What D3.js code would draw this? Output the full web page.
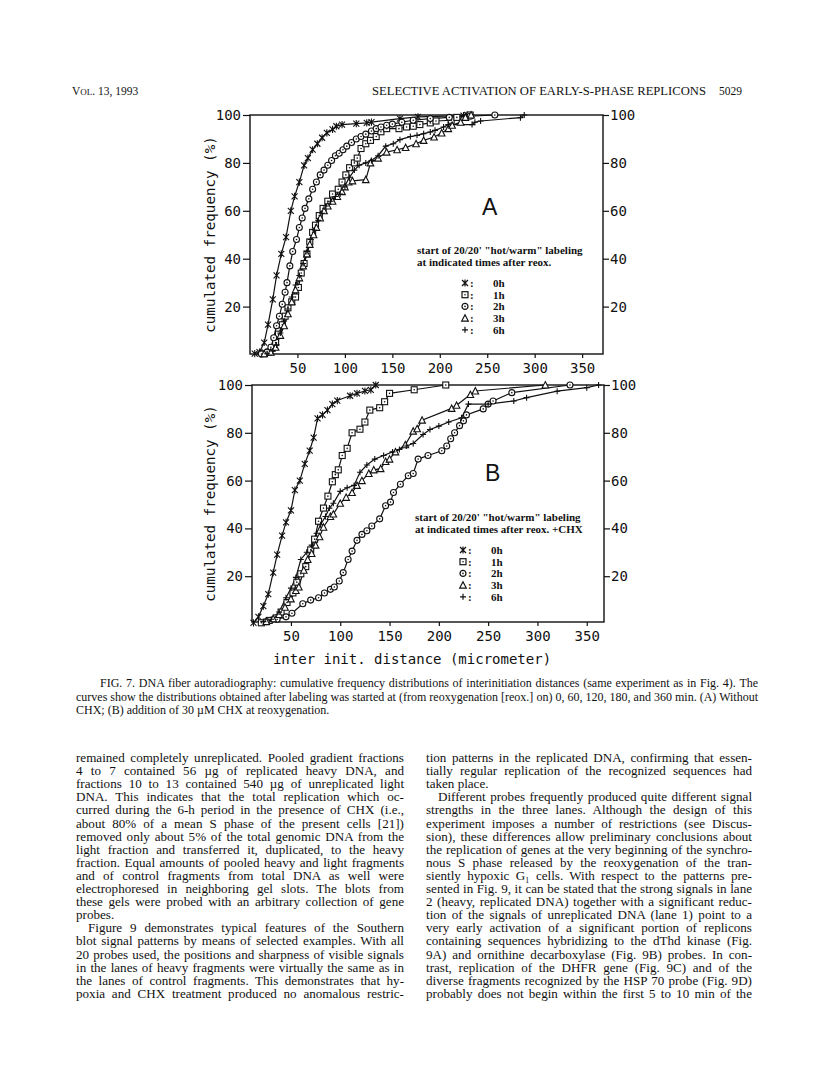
<!DOCTYPE html>
<html>
<head>
<meta charset="utf-8">
<script src="https://cdn.jsdelivr.net/npm/d3@7/dist/d3.min.js"></script>
<style>
  body { margin: 0; background: #fff; }
  svg { display: block; }
  .tick text { font-family: "DejaVu Sans Mono", monospace; font-size: 14px; fill: #111; }
  .tick line { stroke: #111; stroke-width: 1.2; }
  .body { font-family: "Liberation Serif", "Times New Roman", serif; font-size: 13.1px; fill: #111; }
</style>
</head>
<body>
<div id="main"></div>
<script>
// ---- data (x = inter init. distance in um, y = cumulated %) ----
var seriesNames = ["0h", "1h", "2h", "3h", "6h"];
var markerTypes = ["ast", "sq", "ci", "tri", "plus"];
var xTicks = [50, 100, 150, 200, 250, 300, 350];
var yTicks = [20, 40, 60, 80, 100];

// panel A: without CHX
var a0h = [[5,0.4],[10,1],[15,5],[19,12.5],[24,23],[28,33],[33,42],[38,49],[43,60],[47,66],[52,72],[57,79],[61,82],[66,85.5],[71,88],[76,90.5],[81,92.5],[87,94],[91,95.3],[97,96],[112,96.4],[123,96.7],[128,97],[158,98.5],[177,99.2],[225,99.7],[229,100]];
var a1h = [[14,0.3],[20,1],[23,2.6],[27,5],[30,8.5],[34,12.4],[37,16],[40,19.5],[44,22],[48,24],[51,28],[54,34],[57,38],[60,42],[63,47],[66,51],[69,54],[73,58],[77,61],[82,64],[87,67],[93,69],[97,72],[101,75],[105,78],[110,80],[113,82],[117,86],[122,88],[127,89.4],[133,91],[138,93],[144,94.3],[157,94.3],[165,95],[172,95.3],[179,96],[190,96.7],[196,97.5],[212,97.8],[218,99],[232,100]];
var a2h = [[12,0.2],[18,1],[22,3],[25,7],[28,12],[31,16],[34,21],[37,26],[39,30],[42,37],[45,43],[49,48],[52,53],[55,57],[58,61],[62,65],[66,69],[70,72],[74,75],[78,77],[82,79],[86,81],[90,83],[94,84],[98,85.5],[102,87],[107,88.5],[112,90],[117,91],[122,92],[128,93.3],[133,94.3],[138,95],[144,95.7],[150,96.2],[160,97],[172,97.8],[190,98.5],[210,99],[232,99.5],[258,100]];
var a3h = [[15,0.3],[22,1],[27,3],[32,8],[36,12],[40,17],[44,22],[48,27],[52,32],[56,37],[60,42],[63,46],[67,50],[70,53],[74,57],[78,60],[82,62],[87,64],[92,66],[97,68],[100,70],[104,72],[108,72.5],[122,73],[127,80],[135,82],[144,84.5],[155,85.5],[164,86.4],[175,88],[183,89.4],[194,90.8],[202,92.5],[209,94.3],[213,95.7],[222,97],[227,99],[233,100]];
var a6h = [[18,0.3],[24,1.5],[28,4],[32,9],[36,14],[40,19],[44,24],[48,29],[52,33],[56,38],[60,43],[64,48],[68,52],[72,56],[76,59],[80,62],[85,64],[90,66],[95,67],[100,70],[105,74],[110,77],[115,79],[122,80],[128,81],[135,83],[143,87],[151,88],[158,89.7],[169,91],[176,91.5],[183,92.2],[190,92.9],[195,93.6],[204,95],[209,96],[234,96],[237,97],[243,97.5],[285,98.9],[289,100]];

// panel B: +CHX
var b0h = [[12,0.5],[17,3],[22,7.5],[27,12.5],[32,21.5],[36,29],[41,37],[45,42.5],[50,47.5],[54,56],[59,60],[64,67],[69,72.5],[73,78],[77,86],[82,87.5],[87,89.5],[92,92],[97,93.5],[110,95.5],[117,96.5],[125,97.5],[131,98],[136,100]];
var b1h = [[20,0.5],[28,1.5],[35,2.5],[40,5],[46,9],[52,13],[56,17.5],[60,21],[65,24],[70,31],[74,35.5],[78,43],[83,48.5],[87.5,53.5],[92,59.5],[95,62.5],[98,64.5],[102,70.5],[107,73.5],[112,80],[120,81.5],[125,84.5],[130,89.5],[140,90.5],[145,93],[150,96.5],[175,98],[207,100]];
var b2h = [[25,1],[36,2],[45,3],[51,4.5],[62,8.5],[70,10],[78,11],[84,13],[90,14.5],[94,15.5],[99,18],[103,21.5],[108,27],[112,30.5],[117,35],[122,37.5],[127,39],[132,41],[140,44],[146,49.5],[151,51],[154,55],[161,58.5],[169,62],[174,63],[179,69],[189,70.5],[203,72.5],[208,74.5],[212,77.5],[216,80],[221,83],[225,85],[228,87.5],[245,90],[250,92],[255,93.3],[274,96.8],[333,100]];
var b3h = [[25,1],[32,2.2],[38,4],[44,7],[50,10.5],[55,14],[58,15.5],[63,22.5],[67,27],[71,29.5],[75,33],[79,36.5],[83,40.5],[90,45],[93,46],[100,50.5],[106,53],[112,55],[117,58],[122,60],[129,63],[134,64.5],[141,65],[146,68],[150,69],[156,72],[166,75],[174,80.7],[178,81.7],[183,85.3],[213,90.2],[218,91.5],[232,96],[237,97.5],[308,100]];
var b6h = [[22,1],[30,2],[38,5],[45,11],[50,15],[55,19.5],[60,27],[66,30],[71,33],[76,38],[80,41.5],[85,45],[89,48.5],[93,50.5],[100,55.5],[107,57],[114,58],[120,63.5],[127,66.5],[135,69],[144,70.5],[153,72],[160,73],[167,74.5],[174,75.5],[184,79.3],[191,81.4],[200,82.8],[210,84.5],[223,86.3],[230,92],[250,92],[276,93.3],[289,94.7],[320,97.4],[350,98.9],[362,100]];

var legendTitleA = ["start of 20/20' \"hot/warm\" labeling", "at indicated times after reox."];
var legendTitleB = ["start of 20/20' \"hot/warm\" labeling", "at indicated times after reox. +CHX"];

var captionLines = [
  "FIG. 7. DNA fiber autoradiography: cumulative frequency distributions of interinitiation distances (same experiment as in Fig. 4). The",
  "curves show the distributions obtained after labeling was started at (from reoxygenation [reox.] on) 0, 60, 120, 180, and 360 min. (A) Without",
  "CHX; (B) addition of 30 \u00b5M CHX at reoxygenation."
];
var leftCol = [
  "remained completely unreplicated. Pooled gradient fractions",
  "4 to 7 contained 56 \u00b5g of replicated heavy DNA, and",
  "fractions 10 to 13 contained 540 \u00b5g of unreplicated light",
  "DNA. This indicates that the total replication which oc-",
  "curred during the 6-h period in the presence of CHX (i.e.,",
  "about 80% of a mean S phase of the present cells [21])",
  "removed only about 5% of the total genomic DNA from the",
  "light fraction and transferred it, duplicated, to the heavy",
  "fraction. Equal amounts of pooled heavy and light fragments",
  "and of control fragments from total DNA as well were",
  "electrophoresed in neighboring gel slots. The blots from",
  "these gels were probed with an arbitrary collection of gene",
  "probes.",
  "\u2003Figure 9 demonstrates typical features of the Southern",
  "blot signal patterns by means of selected examples. With all",
  "20 probes used, the positions and sharpness of visible signals",
  "in the lanes of heavy fragments were virtually the same as in",
  "the lanes of control fragments. This demonstrates that hy-",
  "poxia and CHX treatment produced no anomalous restric-"
];
var rightCol = [
  "tion patterns in the replicated DNA, confirming that essen-",
  "tially regular replication of the recognized sequences had",
  "taken place.",
  "\u2003Different probes frequently produced quite different signal",
  "strengths in the three lanes. Although the design of this",
  "experiment imposes a number of restrictions (see Discus-",
  "sion), these differences allow preliminary conclusions about",
  "the replication of genes at the very beginning of the synchro-",
  "nous S phase released by the reoxygenation of the tran-",
  "siently hypoxic G\u2081 cells. With respect to the patterns pre-",
  "sented in Fig. 9, it can be stated that the strong signals in lane",
  "2 (heavy, replicated DNA) together with a significant reduc-",
  "tion of the signals of unreplicated DNA (lane 1) point to a",
  "very early activation of a significant portion of replicons",
  "containing sequences hybridizing to the dThd kinase (Fig.",
  "9A) and ornithine decarboxylase (Fig. 9B) probes. In con-",
  "trast, replication of the DHFR gene (Fig. 9C) and of the",
  "diverse fragments recognized by the HSP 70 probe (Fig. 9D)",
  "probably does not begin within the first 5 to 10 min of the"
];
var shortLines = ["probes.", "taken place."];

var svg = d3.select("#main").append("svg")
  .attr("width", 816).attr("height", 1080);
svg.append("rect").attr("width", 816).attr("height", 1080).attr("fill", "#fff");

// justify a line by widening its word gaps (or tightening them if too long)
function justify(el, width) {
  var node = el.node();
  var natural = node.getComputedTextLength();
  var gaps = (el.text().match(/ /g) || []).length;
  if (gaps === 0) return;
  var ws = (width - natural) / gaps;
  if (ws < -1.2) {
    el.attr("textLength", width).attr("lengthAdjust", "spacingAndGlyphs");
  } else {
    el.attr("word-spacing", ws.toFixed(2));
  }
}

// ---- running head ----
var head = svg.append("g").attr("class", "body").style("font-size", "11.5px");
var vol = head.append("text").attr("x", 72).attr("y", 95);
vol.append("tspan").text("V");
vol.append("tspan").style("font-size", "9px").text("OL");
vol.append("tspan").text(". 13, 1993");
head.append("text").attr("x", 372).attr("y", 95).attr("textLength", 334)
  .attr("lengthAdjust", "spacingAndGlyphs").text("SELECTIVE ACTIVATION OF EARLY-S-PHASE REPLICONS");
head.append("text").attr("x", 742).attr("y", 95).attr("text-anchor", "end").text("5029");

// ---- marker shapes ----
function marker(sel, type) {
  var s = 3;
  if (type === "ast") {
    sel.append("path").attr("d", "M" + -s + "," + -s + "L" + s + "," + s + "M" + -s + "," + s + "L" + s + "," + -s + "M0," + (-s - 0.6) + "L0," + (s + 0.6));
  } else if (type === "sq") {
    sel.append("rect").attr("x", -s).attr("y", -s).attr("width", 2 * s).attr("height", 2 * s).attr("fill", "#fff");
    sel.append("circle").attr("r", 0.8).attr("fill", "#111").attr("stroke", "none");
  } else if (type === "ci") {
    sel.append("circle").attr("r", s).attr("fill", "#fff");
    sel.append("circle").attr("r", 0.8).attr("fill", "#111").attr("stroke", "none");
  } else if (type === "tri") {
    sel.append("path").attr("d", "M0," + (-s - 0.4) + "L" + (s + 0.3) + "," + s + "L" + (-s - 0.3) + "," + s + "Z").attr("fill", "#fff");
  } else {
    sel.append("path").attr("d", "M" + -s + ",0L" + s + ",0M0," + -s + "L0," + s);
  }
}

// ---- one panel ----
function drawPanel(cfg) {
  var x = d3.scaleLinear().domain(cfg.xDomain).range([cfg.left, cfg.right]);
  var y = d3.scaleLinear().domain([0, 100]).range([cfg.zeroY, cfg.top]);
  var g = svg.append("g");

  g.append("g").attr("transform", "translate(0," + cfg.bottom + ")")
    .call(d3.axisBottom(x).tickValues(xTicks).tickSize(4).tickSizeOuter(0).tickPadding(5))
    .call(function (a) { a.select(".domain").remove(); });
  g.append("g").attr("transform", "translate(" + cfg.left + ",0)")
    .call(d3.axisLeft(y).tickValues(yTicks).tickSize(7).tickSizeOuter(0).tickPadding(2))
    .call(function (a) { a.select(".domain").remove(); });
  g.append("g").attr("transform", "translate(" + cfg.right + ",0)")
    .call(d3.axisRight(y).tickValues(yTicks).tickSize(6).tickSizeOuter(0).tickPadding(1))
    .call(function (a) { a.select(".domain").remove(); });

  g.append("rect").attr("x", cfg.left).attr("y", cfg.top)
    .attr("width", cfg.right - cfg.left).attr("height", cfg.bottom - cfg.top)
    .attr("fill", "none").attr("stroke", "#111").attr("stroke-width", 1.4);

  g.append("text")
    .attr("transform", "translate(" + 210 + "," + ((cfg.top + cfg.bottom) / 2) + ") rotate(-90)")
    .attr("text-anchor", "middle").attr("dy", "0.35em")
    .style("font-family", "DejaVu Sans Mono, monospace").style("font-size", "14.2px").style("fill", "#111")
    .text("cumulated frequency  (%)");

  var line = d3.line().x(function (d) { return x(d[0]); }).y(function (d) { return y(d[1]); });
  cfg.series.forEach(function (s, i) {
    g.append("path").datum(s).attr("d", line)
      .attr("fill", "none").attr("stroke", "#111").attr("stroke-width", 1.2);
  });
  cfg.series.forEach(function (s, i) {
    g.selectAll(null).data(s).enter().append("g")
      .attr("transform", function (d) { return "translate(" + x(d[0]) + "," + y(d[1]) + ")"; })
      .attr("fill", "none").attr("stroke", "#111").attr("stroke-width", 1.1)
      .each(function () { marker(d3.select(this), markerTypes[i]); });
  });

  g.append("text").attr("x", cfg.letterX).attr("y", cfg.letterY)
    .style("font-family", "Liberation Sans, Arial, sans-serif").style("font-size", "23px").style("fill", "#111")
    .text(cfg.letter);

  var lg = g.append("g").attr("class", "body").style("font-weight", "bold").style("font-size", "11px");
  cfg.legendTitle.forEach(function (t, i) {
    lg.append("text").attr("x", cfg.legX).attr("y", cfg.legY + i * 12).text(t);
  });
  seriesNames.forEach(function (n, i) {
    var ry = cfg.legY + 33 + i * 11.7;
    var m = lg.append("g").attr("transform", "translate(" + (cfg.legX + 48) + "," + (ry - 4) + ")")
      .attr("fill", "none").attr("stroke", "#111").attr("stroke-width", 1.2);
    marker(m, markerTypes[i]);
    lg.append("text").attr("x", cfg.legX + 53).attr("y", ry).text(":");
    lg.append("text").attr("x", cfg.legX + 76).attr("y", ry).text(n);
  });
}

drawPanel({
  xDomain: [0, 372], left: 250, right: 603, top: 115, bottom: 354, zeroY: 354.5,
  series: [a0h, a1h, a2h, a3h, a6h], letter: "A", letterX: 482, letterY: 215,
  legendTitle: legendTitleA, legX: 417, legY: 254
});
drawPanel({
  xDomain: [10.5, 367.5], left: 252, right: 604, top: 385, bottom: 622, zeroY: 624,
  series: [b0h, b1h, b2h, b3h, b6h], letter: "B", letterX: 485, letterY: 481,
  legendTitle: legendTitleB, legX: 415, legY: 521
});

svg.append("text").attr("x", 412).attr("y", 664).attr("text-anchor", "middle")
  .style("font-family", "DejaVu Sans Mono, monospace").style("font-size", "14px").style("fill", "#111")
  .text("inter init. distance (micrometer)");

// ---- caption and body text ----
var cap = svg.append("g").attr("class", "body").style("font-size", "12px");
captionLines.forEach(function (t, i) {
  var x0 = i === 0 ? 100 : 76;
  var el = cap.append("text").attr("x", x0).attr("y", 687 + i * 13.5).text(t);
  if (i < captionLines.length - 1) justify(el, 758 - x0);
});

function column(lines, x0, width) {
  var g = svg.append("g").attr("class", "body");
  lines.forEach(function (t, i) {
    var indent = t.charAt(0) === "\u2003";
    var txt = indent ? t.slice(1) : t;
    var xs = indent ? x0 + 12 : x0;
    var el = g.append("text").attr("x", xs).attr("y", 762 + i * 13.1).text(txt);
    if (shortLines.indexOf(t) < 0) justify(el, x0 + width - xs);
  });
}
column(leftCol, 76, 328);
column(rightCol, 426, 326);
</script>
</body>
</html>
